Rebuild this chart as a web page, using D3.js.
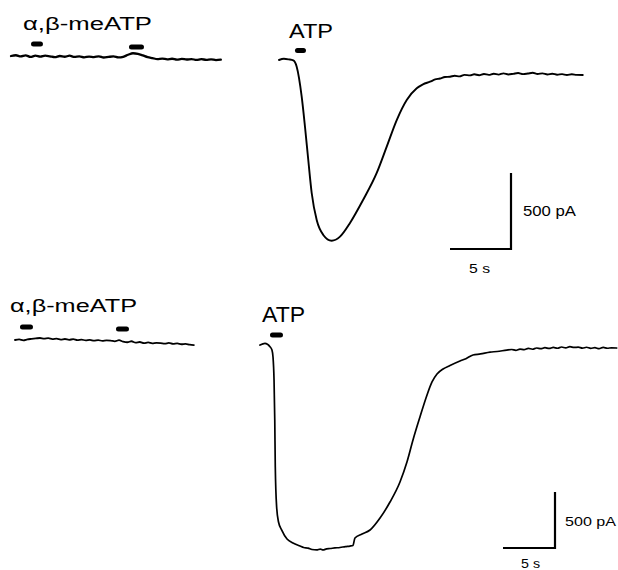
<!DOCTYPE html>
<html>
<head>
<meta charset="utf-8">
<script src="https://cdn.jsdelivr.net/npm/d3@7"></script>
<style>
  html, body { margin: 0; padding: 0; background: #fff; }
  svg { display: block; }
  text { font-family: "Liberation Sans", Arial, sans-serif; fill: #000; }
</style>
</head>
<body>
<svg id="chart" width="618" height="570"></svg>
<script>
// ---- recorded currents (pA) ----
// α,β-meATP traces are sampled every 0.4 s
const SAMPLE_DT = 0.4;

const topMeCurrent = [0, 5, -3, 4, -6, 2, -4, 3, -2, -8, 0, -5, 2, -6, -3, -9, -4, -7, -2, -10,
  -6, -3, -9, -5, 8, 18, 14, 4, -8, -14, -20, -17, -22, -18, -24, -19, -23, -20, -26, -21,
  -25, -22, -27, -24];

const bottomMeCurrent = [0, 5, -3, 6, 10, 14, 18, 12, 16, 8, 12, 4, 9, 2, 7, -2, 4, -4, 1, -6,
  -1, -8, -3, -5, -12, -2, -15, -20, -11, -24, -18, -28, -22, -30, -25, -27, -33, -26, -35,
  -30, -38, -34, -42, -45];

// ATP responses: [time (s), current (pA)]
const topAtpCurrent = [
  [0, 0], [0.4, 8], [0.8, 4], [1.17, -3], [1.45, -44], [1.86, -241], [2.13, -439], [2.40, -658],
  [2.68, -875], [3.09, -1053], [3.63, -1151], [4.32, -1189], [5.00, -1162], [5.82, -1072],
  [6.89, -921], [8.01, -743], [8.83, -570], [9.65, -395], [10.47, -263], [11.29, -186],
  [11.8, -160], [12.38, -143], [12.8, -128], [13.2, -122], [13.6, -112], [14.02, -110],
  [14.4, -104], [14.8, -108], [15.2, -98], [15.66, -101], [16.0, -94], [16.4, -100],
  [16.8, -92], [17.2, -98], [17.6, -90], [18.0, -96], [18.4, -88], [18.8, -95], [19.2, -91],
  [19.6, -86], [20.0, -93], [20.4, -89], [20.8, -84], [21.2, -92], [21.6, -88], [22.0, -95],
  [22.4, -90], [22.8, -97], [23.2, -93], [23.6, -99], [24.0, -94], [24.4, -98], [24.9, -99]
];

const bottomAtpCurrent = [
  [0, 0], [0.48, 15], [0.96, -15], [1.15, -45], [1.25, -107], [1.35, -313], [1.42, -670],
  [1.47, -1089], [1.60, -1446], [1.78, -1580], [2.09, -1652], [2.60, -1732], [3.17, -1768],
  [3.85, -1795], [4.2, -1808], [4.62, -1813], [5.0, -1826], [5.45, -1830], [5.8, -1822],
  [6.06, -1830], [6.4, -1820], [6.73, -1817], [7.2, -1812], [7.69, -1808], [8.2, -1800],
  [8.65, -1795], [8.94, -1790], [9.13, -1723], [9.81, -1688], [10.58, -1652], [11.54, -1545],
  [12.50, -1402], [13.46, -1223], [14.13, -1045], [14.71, -848], [15.38, -643], [16.06, -446],
  [16.54, -330], [17.02, -259], [17.6, -214], [18.27, -183], [19.23, -143], [19.8, -122],
  [20.48, -89], [21.2, -80], [22.12, -63], [22.8, -58], [23.72, -45], [24.2, -40], [24.6, -48],
  [25.0, -36], [25.4, -42], [25.8, -30], [26.2, -38], [26.6, -27], [27.0, -33], [27.4, -24],
  [27.8, -31], [28.2, -22], [28.6, -29], [29.0, -18], [29.4, -26], [29.8, -15], [30.2, -22],
  [30.6, -19], [31.0, -28], [31.4, -20], [31.8, -30], [32.2, -24], [32.6, -33], [33.0, -22],
  [33.4, -29], [33.8, -25], [34.3, -27]
];

// drug application periods [start, end] in s
const topMeApplications = [[1.64, 2.62], [9.67, 10.9]];
const topAtpApplications = [[1.31, 2.21]];
const bottomMeApplications = [[0.48, 1.73], [9.71, 10.96]];
const bottomAtpApplications = [[0.96, 2.21]];

// drug labels and calibration
const meLabel = "α,β-meATP";
const atpLabel = "ATP";
const calCurrent = 500;  // pA
const calTime = 5;       // s
const calCurrentLabel = "500 pA";
const calTimeLabel = "5 s";

// ---- layout ----
const svg = d3.select("#chart");

const panels = [
  {
    pxPerCal: { x: 61, y: 76 },
    me:  { x0: 11,  y0: 56,  current: topMeCurrent, apps: topMeApplications, barY: [44, 47], width: 2.3,
           label: { x: 23, y: 29.5, size: 17.6, len: 129 } },
    atp: { x0: 279, y0: 60,  current: topAtpCurrent, apps: topAtpApplications, barY: [50.5], width: 1.9,
           label: { x: 289, y: 37.5, size: 21, len: 44 } },
    cal: { x: 511, y: 249, vLabel: { x: 523, y: 216, size: 14, len: 53 },
           hLabel: { x: 469, y: 273, size: 13, len: 21 } }
  },
  {
    pxPerCal: { x: 52, y: 56 },
    me:  { x0: 15,  y0: 340, current: bottomMeCurrent, apps: bottomMeApplications, barY: [327, 329], width: 1.8,
           label: { x: 10, y: 312, size: 17.6, len: 127 } },
    atp: { x0: 260, y0: 345, current: bottomAtpCurrent, apps: bottomAtpApplications, barY: [335], width: 1.7,
           label: { x: 262, y: 322, size: 21.5, len: 43 } },
    cal: { x: 555, y: 548, vLabel: { x: 565, y: 526, size: 13.5, len: 51 },
           hLabel: { x: 521, y: 568, size: 13, len: 19 } }
  }
];

function addLabel(g, spec, str) {
  g.append("text")
    .attr("x", spec.x).attr("y", spec.y)
    .attr("font-size", spec.size)
    .attr("textLength", spec.len)
    .attr("lengthAdjust", "spacingAndGlyphs")
    .text(str);
}

function drawTrace(g, panel, tr, points, labelText) {
  const x = d3.scaleLinear().domain([0, calTime]).range([tr.x0, tr.x0 + panel.pxPerCal.x]);
  const y = d3.scaleLinear().domain([0, -calCurrent]).range([tr.y0, tr.y0 + panel.pxPerCal.y]);

  const line = d3.line()
    .x(d => x(d[0]))
    .y(d => y(d[1]))
    .curve(d3.curveMonotoneX);

  g.append("path")
    .datum(points)
    .attr("d", line)
    .attr("fill", "none")
    .attr("stroke", "#000")
    .attr("stroke-width", tr.width)
    .attr("stroke-linejoin", "round")
    .attr("stroke-linecap", "round");

  g.selectAll(null)
    .data(tr.apps)
    .join("rect")
    .attr("x", d => x(d[0]))
    .attr("width", d => x(d[1]) - x(d[0]))
    .attr("y", (d, i) => tr.barY[i] - 2.5)
    .attr("height", 5)
    .attr("rx", 2.5)
    .attr("fill", "#000");

  addLabel(g, tr.label, labelText);
}

panels.forEach(panel => {
  const g = svg.append("g");

  const mePoints = panel.me.current.map((v, i) => [i * SAMPLE_DT, v]);
  drawTrace(g, panel, panel.me, mePoints, meLabel);
  drawTrace(g, panel, panel.atp, panel.atp.current, atpLabel);

  // calibration bars built from the same scale factors
  const cx = d3.scaleLinear().domain([0, calTime]).range([panel.cal.x, panel.cal.x + panel.pxPerCal.x]);
  const cy = d3.scaleLinear().domain([0, calCurrent]).range([panel.cal.y, panel.cal.y - panel.pxPerCal.y]);
  g.append("path")
    .attr("d", d3.line()([
      [cx(0) - (cx(calTime) - cx(0)), cy(0)],
      [cx(0), cy(0)],
      [cx(0), cy(calCurrent)]
    ]))
    .attr("fill", "none")
    .attr("stroke", "#000")
    .attr("stroke-width", 2.2);

  addLabel(g, panel.cal.vLabel, calCurrentLabel);
  addLabel(g, panel.cal.hLabel, calTimeLabel);
});
</script>
</body>
</html>
